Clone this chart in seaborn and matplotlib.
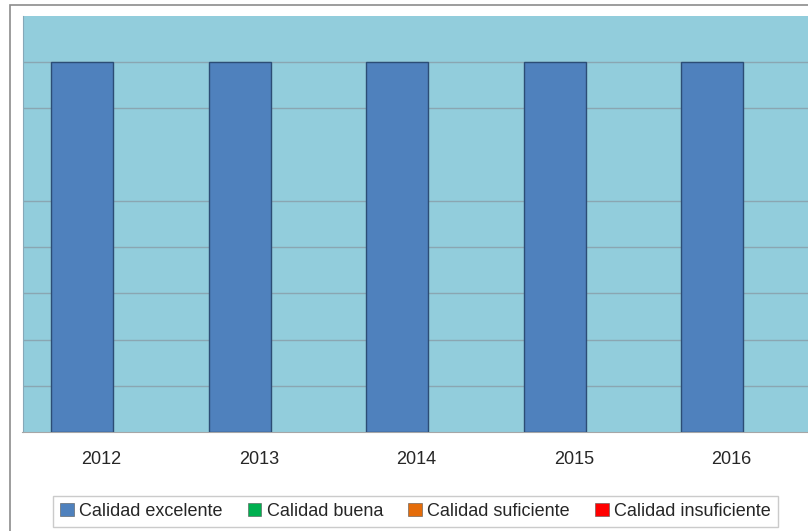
import seaborn as sns
import matplotlib.pyplot as plt
import matplotlib.patches as mpatches
import pandas as pd

years = ['2012', '2013', '2014', '2015', '2016']
categories = ['Calidad excelente', 'Calidad buena', 'Calidad suficiente', 'Calidad insuficiente']
excelente = [8, 8, 8, 8, 8]
colors = ['#4F81BD', '#00B050', '#E46C0A', '#FF0000']
grid_levels = [1, 2, 3, 4, 5, 7, 8]  # the line at 6 does not show in the original

sns.set_style('white')
plt.rcParams['font.family'] = ['Liberation Sans Narrow', 'Liberation Sans', 'DejaVu Sans']

df = pd.DataFrame({'year': years, 'value': excelente})

fig = plt.figure(figsize=(8.08, 5.31), dpi=100)
# outer chart border (cropped on the right/bottom)
fig.patches.append(mpatches.Rectangle((10 / 808, -0.1), 1.2, 1.1 - 5 / 531, transform=fig.transFigure,
                                      fill=False, edgecolor='#8C8C8C', linewidth=1.2))

band = 157.5 / 808
ax = fig.add_axes([22.5 / 808, 1 - 432 / 531, 5 * band, (432 - 16) / 531])
ax.set_facecolor('#92CDDC')

sns.barplot(data=df, x='year', y='value', color=colors[0], width=0.394, saturation=1,
            edgecolor='#2C4D75', linewidth=1.0, ax=ax, zorder=3)

# bar sits left of the category centre (other series are empty)
offset = 0.122
ax.set_xlim(-0.5 + offset, 4.5 + offset)
ax.set_ylim(0, 9)
ax.set_xticks([i + offset for i in range(5)])
ax.set_xticklabels(years, fontsize=13)
ax.set_xticks([i + offset - 0.5 for i in range(6)], minor=True)
ax.tick_params(axis='x', which='major', length=0, pad=14)
ax.tick_params(axis='x', which='minor', length=7, color='#A6A6A6', width=1)
ax.set_yticks(grid_levels)
ax.set_yticklabels([])
ax.tick_params(axis='y', length=0)
ax.yaxis.grid(True, color='#8AA6B2', linewidth=1.0, zorder=1)
ax.set_axisbelow(True)
ax.set_xlabel('')
ax.set_ylabel('')
for side in ['top', 'right']:
    ax.spines[side].set_visible(False)
ax.spines['left'].set_color('#86A8B8')
ax.spines['bottom'].set_color('#A6A6A6')

handles = [mpatches.Patch(facecolor=c, edgecolor='#555555', linewidth=0.4) for c in colors]
leg = fig.legend(handles, categories, loc='center', bbox_to_anchor=(415.5 / 808, 1 - 511.5 / 531), ncol=4,
                 frameon=True, fancybox=False, fontsize=13, handlelength=0.75, handleheight=0.75,
                 handletextpad=0.3, columnspacing=1.4, borderpad=0.4)
leg.get_frame().set_edgecolor('#BFBFBF')
leg.get_frame().set_linewidth(1)

fig.savefig('out.png', dpi=100)
